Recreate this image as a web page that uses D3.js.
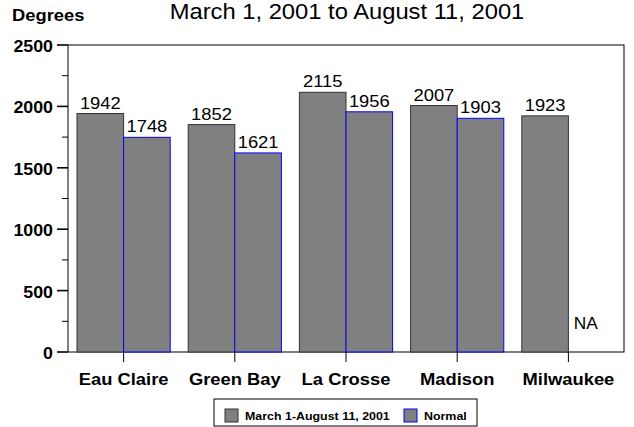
<!DOCTYPE html>
<html>
<head>
<meta charset="utf-8">
<script src="https://cdn.jsdelivr.net/npm/d3@7"></script>
<style>
  body { margin: 0; background: #fff; }
  text { font-family: "Liberation Sans", Arial, sans-serif; fill: #000; }
</style>
</head>
<body>
<div id="chart"></div>
<script>
const cities = ['Eau Claire', 'Green Bay', 'La Crosse', 'Madison', 'Milwaukee']
const series = ['March 1-August 11, 2001', 'Normal']
const actual = [1942, 1852, 2115, 2007, 1923]
const normal = [1748, 1621, 1956, 1903, null]
const yTicks = [0, 500, 1000, 1500, 2000, 2500]
const yMinor = [250, 750, 1250, 1750, 2250]

const width = 634, height = 427
const margin = { top: 45, right: 10, bottom: 75, left: 68 }
const plotW = width - margin.left - margin.right
const plotH = height - margin.top - margin.bottom
// the original text looks a little wide, stretch it sideways
const stretch = 1.08

const strokes = ['#333', '#0000ff']

const svg = d3.select('#chart').append('svg')
  .attr('width', width)
  .attr('height', height)

const label = (parent, x, y, size, str, anchor = 'start', bold = false) =>
  parent.append('text')
    .attr('transform', `translate(${x},${y}) scale(${stretch},1)`)
    .attr('text-anchor', anchor)
    .attr('font-size', size)
    .attr('font-weight', bold ? 'bold' : 'normal')
    .text(str)

const g = svg.append('g').attr('transform', `translate(${margin.left},${margin.top})`)

const x0 = d3.scaleBand().domain(cities).range([0, plotW])
const x1 = d3.scaleBand().domain(series).range([9, x0.bandwidth() - 9])
const y = d3.scaleLinear().domain([0, 2500]).range([plotH, 0])

// plot frame
g.append('rect')
  .attr('width', plotW).attr('height', plotH)
  .attr('fill', 'none').attr('stroke', '#000')

const rows = cities.map((c, i) => ({ city: c, vals: [actual[i], normal[i]] }))

const groups = g.selectAll('.grp').data(rows).enter().append('g')
  .attr('transform', (d) => `translate(${x0(d.city)},0)`)

groups.selectAll('rect').data((d) => d.vals.map((v, j) => ({ v, s: series[j], j })))
  .enter().filter((d) => d.v != null).append('rect')
  .attr('x', (d) => x1(d.s))
  .attr('y', (d) => y(d.v))
  .attr('width', x1.bandwidth())
  .attr('height', (d) => plotH - y(d.v))
  .attr('fill', '#808080')
  .attr('stroke', (d) => strokes[d.j])

groups.each(function (d) {
  const grp = d3.select(this)
  d.vals.forEach((v, j) => {
    const cx = x1(series[j]) + x1.bandwidth() / 2
    if (v == null) label(grp, cx - 6, plotH - 23, 16, 'NA', 'middle')
    else label(grp, cx, y(v) - 5, 17, v, 'middle')
  })
})

// y axis
const yAxis = g.append('g')
yAxis.selectAll('.minor').data(yMinor).enter().append('line')
  .attr('x1', -6).attr('x2', 0)
  .attr('y1', (d) => y(d)).attr('y2', (d) => y(d))
  .attr('stroke', '#000')
yAxis.selectAll('.major').data(yTicks).enter().append('line')
  .attr('x1', -11).attr('x2', 0)
  .attr('y1', (d) => y(d)).attr('y2', (d) => y(d))
  .attr('stroke', '#000').attr('stroke-width', 1.6)
yTicks.forEach((t) => label(yAxis, -15, y(t) + 7, 16.5, t, 'end', true))

// x axis
const xAxis = g.append('g').attr('transform', `translate(0,${plotH})`)
const tickX = (c) => x0(c) + x1(series[1])
xAxis.selectAll('line').data(cities).enter().append('line')
  .attr('x1', tickX).attr('x2', tickX)
  .attr('y1', 0).attr('y2', 10)
  .attr('stroke', '#000')
cities.forEach((c) => label(xAxis, tickX(c), 33, 17, c, 'middle', true))

// titles
label(svg, 12, 21, 17, 'Degrees', 'start', true)
label(svg, 347, 19, 22, 'March 1, 2001 to August 11, 2001', 'middle')

// legend
const leg = svg.append('g').attr('transform', 'translate(214,399)')
leg.append('rect').attr('width', 263).attr('height', 27)
  .attr('fill', '#fff').attr('stroke', '#000')
const legX = [11, 190]
series.forEach((s, i) => {
  leg.append('rect').attr('x', legX[i]).attr('y', 10).attr('width', 13).attr('height', 13)
    .attr('fill', '#808080').attr('stroke', strokes[i])
  label(leg, legX[i] + 20, 21, 11.5, s, 'start', true)
})
</script>
</body>
</html>
